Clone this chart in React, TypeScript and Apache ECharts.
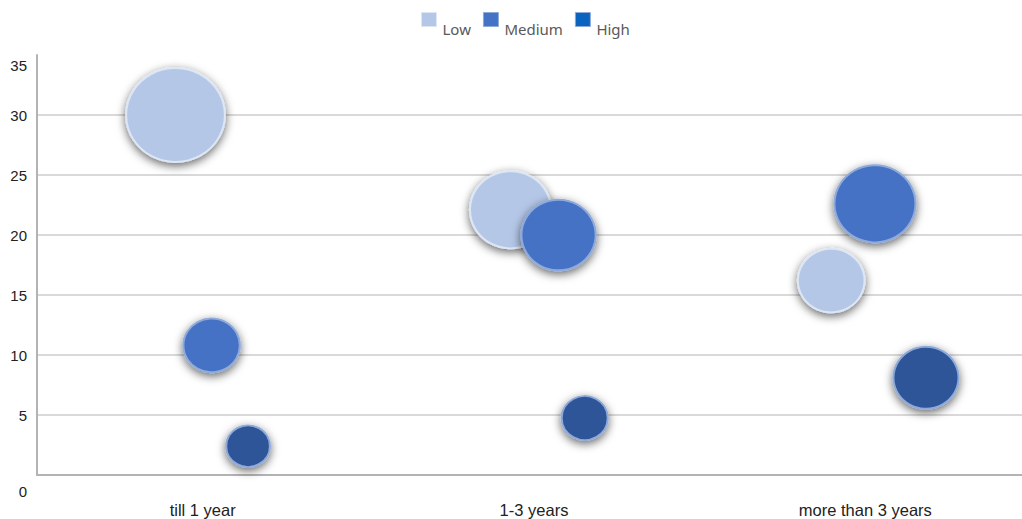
import React, { useEffect, useRef } from "react";
import * as echarts from "echarts";

const categories = ["till 1 year", "1-3 years", "more than 3 years"];
const seriesNames = ["Low", "Medium", "High"];

// x positions inside the category bands (band index + offset), y values, bubble sizes
const lowX = [0.418, 1.429, 2.397];
const lowY = [30, 22.1, 16.2];
const lowSize = [92, 62, 42];

const mediumX = [0.527, 1.574, 2.529];
const mediumY = [10.8, 20, 22.6];
const mediumSize = [30, 52, 62];

const highX = [0.637, 1.653, 2.683];
const highY = [2.4, 4.75, 8.1];
const highSize = [18, 20, 40];

const yTicks = [0, 5, 10, 15, 20, 25, 30, 35];

const fills = ["#b4c7e7", "#4472c4", "#2f5597"];
const borders = ["#dce6f4", "#8eaadb", "#8eaadb"];
const legendFills = ["#b4c7e7", "#4472c4", "#0b63c0"];

export default function App() {
  const ref = useRef<HTMLDivElement>(null);
  useEffect(() => {
    document.body.style.margin = "0";
    document.body.style.overflow = "hidden";
    const chart = echarts.init(ref.current!, null, { renderer: "svg" });
    const mk = (xs: number[], ys: number[], ss: number[]) =>
      xs.map((x, i) => [x, ys[i], ss[i]]);
    const datasets = [
      mk(lowX, lowY, lowSize),
      mk(mediumX, mediumY, mediumSize),
      mk(highX, highY, highSize),
    ];
    chart.setOption({
      animation: false,
      legend: {
        top: 0,
        left: 421,
        itemWidth: 15,
        itemHeight: 14,
        itemGap: 12,
        padding: [12, 0, 0, 0],
        icon: "rect",
        data: seriesNames.map((n, i) => ({
          name: n,
          itemStyle: { color: legendFills[i], borderColor: borders[i], borderWidth: 1, shadowBlur: 0 },
        })),
        formatter: (name: string) => `{t|${name}}`,
        textStyle: {
          color: "#595959",
          fontSize: 15,
          fontFamily: "Noto Sans",
          rich: {
            t: {
              color: "#595959",
              fontSize: 15,
              fontFamily: "Noto Sans",
              padding: [18, 0, 0, 1],
            },
          },
        },
      },
      grid: { left: 37, top: 55, width: 994, bottom: 44 },
      xAxis: [
        {
          type: "category",
          data: categories,
          boundaryGap: true,
          axisLine: { lineStyle: { color: "#b3b3b3", width: 2 } },
          axisTick: { show: false },
          axisLabel: {
            color: "#222",
            fontSize: 16.5,
            fontFamily: "Liberation Sans",
            margin: 26,
          },
          splitLine: { show: false },
        },
        {
          type: "value",
          min: 0,
          max: 3,
          show: false,
          splitLine: { show: false },
        },
      ],
      yAxis: {
        type: "value",
        min: 0,
        max: 35,
        interval: 5,
        axisLine: { show: true, lineStyle: { color: "#b3b3b3", width: 2 } },
        axisTick: { show: false },
        splitLine: { show: true, showMaxLine: false, lineStyle: { color: "#d9d9d9", width: 2 } },
        axisLabel: {
          color: "#222",
          fontSize: 15,
          fontFamily: "Liberation Sans",
          margin: 10,
          formatter: (v: number) =>
            v === yTicks[yTicks.length - 1] ? `{t|${v}}` : v === yTicks[0] ? `{b|${v}}` : `${v}`,
          rich: {
            t: { padding: [20, 0, 0, 0], fontSize: 15, color: "#222", fontFamily: "Liberation Sans" },
            b: { padding: [32, 0, 0, 0], fontSize: 15, color: "#222", fontFamily: "Liberation Sans" },
          },
        },
      },
      series: seriesNames.map((name, i) => ({
        name,
        type: "scatter",
        xAxisIndex: 1,
        data: datasets[i],
        symbol: "circle",
        symbolSize: (d: number[]) => [Math.sqrt(d[2]) * 10.3, Math.sqrt(d[2]) * 9.8],
        itemStyle: {
          color: fills[i],
          borderColor: borders[i],
          borderWidth: 2,
          shadowBlur: 10,
          shadowOffsetY: 3,
          shadowColor: "rgba(0,0,0,0.6)",
          opacity: 1,
        },
        emphasis: { disabled: true },
      })),
    });
    return () => chart.dispose();
  }, []);
  return <div ref={ref} style={{ width: 1032, height: 519 }} />;
}
